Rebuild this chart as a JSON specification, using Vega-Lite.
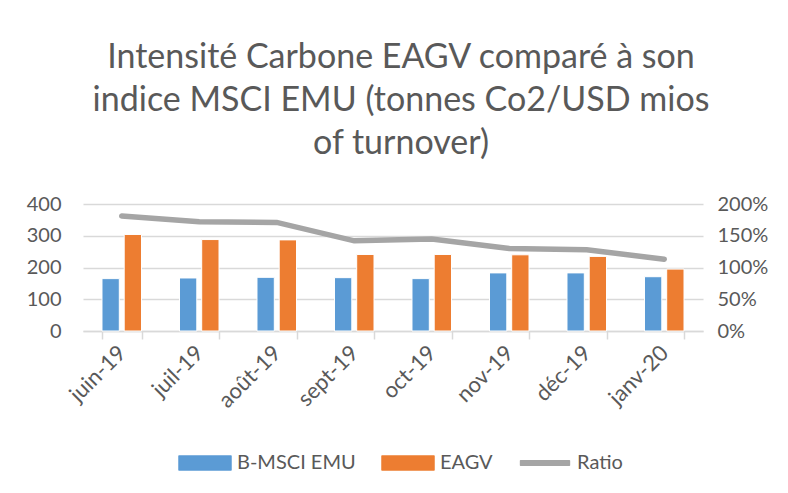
{
  "$schema": "https://vega.github.io/schema/vega-lite/v6.json",
  "width": 620,
  "height": 127,
  "autosize": {"type": "none"},
  "padding": {"left": 83, "top": 204, "right": 85, "bottom": 162},
  "background": "white",
  "config": {"view": {"stroke": null}, "font": "Lato"},
  "title": {
    "text": ["Intensité Carbone EAGV comparé à son", "indice MSCI EMU (tonnes Co2/USD mios", "of turnover)"],
    "fontSize": 34,
    "font": "Lato",
    "fontWeight": "normal",
    "color": "#595959",
    "lineHeight": 43,
    "anchor": "middle",
    "dx": 8,
    "offset": 33
  },
  "datasets": {
    "bars": [
      {"month": "juin-19", "series": "B-MSCI EMU", "value": 165},
      {"month": "juin-19", "series": "EAGV", "value": 304},
      {"month": "juil-19", "series": "B-MSCI EMU", "value": 167},
      {"month": "juil-19", "series": "EAGV", "value": 288},
      {"month": "août-19", "series": "B-MSCI EMU", "value": 169},
      {"month": "août-19", "series": "EAGV", "value": 287},
      {"month": "sept-19", "series": "B-MSCI EMU", "value": 168},
      {"month": "sept-19", "series": "EAGV", "value": 241},
      {"month": "oct-19", "series": "B-MSCI EMU", "value": 165},
      {"month": "oct-19", "series": "EAGV", "value": 241},
      {"month": "nov-19", "series": "B-MSCI EMU", "value": 183},
      {"month": "nov-19", "series": "EAGV", "value": 240},
      {"month": "déc-19", "series": "B-MSCI EMU", "value": 183},
      {"month": "déc-19", "series": "EAGV", "value": 235},
      {"month": "janv-20", "series": "B-MSCI EMU", "value": 171},
      {"month": "janv-20", "series": "EAGV", "value": 195}
    ],
    "ratio": [
      {"month": "juin-19", "ratio": 1.81},
      {"month": "juil-19", "ratio": 1.72},
      {"month": "août-19", "ratio": 1.71},
      {"month": "sept-19", "ratio": 1.42},
      {"month": "oct-19", "ratio": 1.45},
      {"month": "nov-19", "ratio": 1.30},
      {"month": "déc-19", "ratio": 1.28},
      {"month": "janv-20", "ratio": 1.13}
    ]
  },
  "layer": [
    {
      "data": {"name": "bars"},
      "mark": {"type": "bar", "stroke": "white", "strokeWidth": 1},
      "encoding": {
        "x": {
          "field": "month", "type": "nominal", "sort": null,
          "scale": {"paddingInner": 0.49, "paddingOuter": 0.245},
          "axis": {
            "title": null, "labelAngle": -45, "labelAlign": "right", "labelBaseline": "middle",
            "labelFontSize": 22, "labelColor": "#595959", "labelPadding": 10,
            "domainColor": "#D9D9D9", "domainWidth": 1.5, "tickColor": "#D9D9D9", "tickWidth": 1.5,
            "tickSize": 8, "tickBand": "extent", "grid": false
          }
        },
        "xOffset": {"field": "series", "type": "nominal", "sort": null, "scale": {"paddingInner": 0.22, "paddingOuter": 0}},
        "y": {
          "field": "value", "type": "quantitative",
          "scale": {"domain": [0, 400]},
          "axis": {
            "title": null, "values": [0, 100, 200, 300, 400], "grid": true, "gridColor": "#D9D9D9", "gridWidth": 1.5,
            "domain": false, "ticks": false, "labelPadding": 22, "labelFontSize": 20, "labelColor": "#595959"
          }
        },
        "color": {
          "field": "series", "type": "nominal",
          "scale": {"domain": ["B-MSCI EMU", "EAGV", "Ratio"], "range": ["#5B9BD5", "#ED7D31", "#A5A5A5"]},
          "legend": {
            "title": null, "orient": "none", "legendX": 95, "legendY": 232, "direction": "horizontal",
            "labelFontSize": 20, "labelColor": "#595959", "symbolSize": 2704, "columnPadding": 25, "labelOffset": 5,
            "encode": {
              "symbols": {
                "update": {
                  "shape": {"signal": "datum.value === 'Ratio' ? 'M-0.94,-0.09H0.94V0.09H-0.94Z' : 'M-1,-0.27H1V0.27H-1Z'"},
                  "fill": {"signal": "scale('color', datum.value)"},
                  "stroke": {"signal": "datum.value === 'Ratio' ? '#A5A5A5' : 'transparent'"},
                  "strokeWidth": {"value": 1.5},
                  "strokeJoin": {"value": "round"}
                }
              }
            }
          }
        }
      }
    },
    {
      "data": {"name": "ratio"},
      "mark": {"type": "line", "strokeWidth": 5.5, "strokeCap": "round"},
      "encoding": {
        "x": {"field": "month", "type": "nominal", "sort": null},
        "y": {
          "field": "ratio", "type": "quantitative",
          "scale": {"domain": [0, 2]},
          "axis": {
            "orient": "right", "title": null, "format": ".0%", "values": [0, 0.5, 1, 1.5, 2], "grid": false,
            "domain": false, "ticks": false, "labelPadding": 14, "labelFontSize": 20, "labelColor": "#595959"
          }
        },
        "color": {
          "datum": "Ratio",
          "legend": {
            "title": null, "orient": "none", "legendX": 95, "legendY": 232, "direction": "horizontal",
            "labelFontSize": 20, "labelColor": "#595959", "symbolSize": 2704, "columnPadding": 25, "labelOffset": 5,
            "encode": {
              "symbols": {
                "update": {
                  "shape": {"signal": "datum.value === 'Ratio' ? 'M-0.94,-0.09H0.94V0.09H-0.94Z' : 'M-1,-0.27H1V0.27H-1Z'"},
                  "fill": {"signal": "scale('color', datum.value)"},
                  "stroke": {"signal": "datum.value === 'Ratio' ? '#A5A5A5' : 'transparent'"},
                  "strokeWidth": {"value": 1.5},
                  "strokeJoin": {"value": "round"}
                }
              }
            }
          }
        }
      }
    }
  ],
  "resolve": {"scale": {"y": "independent"}}
}
